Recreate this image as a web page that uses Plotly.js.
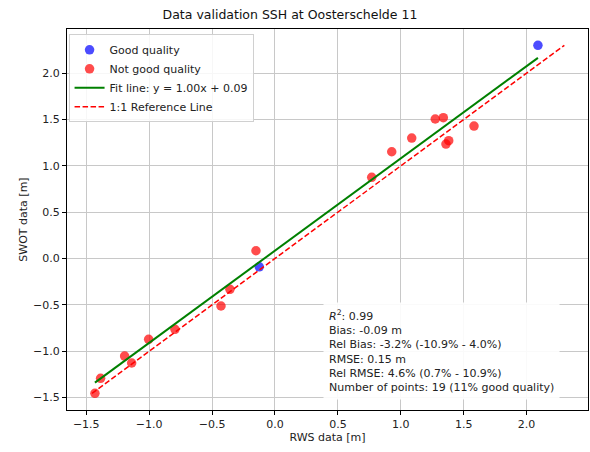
<!DOCTYPE html>
<html>
<head>
<meta charset="utf-8">
<script src="https://cdn.plot.ly/plotly-3.0.1.min.js"></script>
<style>html,body{margin:0;padding:0;background:#fff;}#chart{width:590px;height:452px;}</style>
</head>
<body>
<div id="chart"></div>
<script>
// Good quality points
const goodX = [2.09, -0.125];
const goodY = [2.30, -0.09];
// Not good quality points
const badX = [-1.386, -1.431, -1.195, -1.139, -1.004, -0.795, -0.151, -0.358, -0.429, 0.769, 0.928, 1.087, 1.274, 1.338, 1.381, 1.359, 1.582];
const badY = [-1.292, -1.454, -1.052, -1.127, -0.872, -0.764, 0.084, -0.332, -0.512, 0.876, 1.152, 1.300, 1.505, 1.519, 1.271, 1.235, 1.429];
// Fit line parameters
const fitSlope = 0.995;
const fitIntercept = 0.085;
const fitLabel = "Fit line: y = 1.00x + 0.09";
// Stats text
const statsLines = [
  "<i>R</i><sup>2</sup>: 0.99",
  "Bias: -0.09 m",
  "Rel Bias: -3.2% (-10.9% - 4.0%)",
  "RMSE: 0.15 m",
  "Rel RMSE: 4.6% (0.7% - 10.9%)",
  "Number of points: 19 (11% good quality)"
];
const xTicks = [-1.5, -1.0, -0.5, 0.0, 0.5, 1.0, 1.5, 2.0];
const yTicks = [-1.5, -1.0, -0.5, 0.0, 0.5, 1.0, 1.5, 2.0];

const allX = goodX.concat(badX);
const allY = goodY.concat(badY);
const xMin = Math.min(...allX), xMax = Math.max(...allX);
const lo = Math.min(...allX, ...allY), hi = Math.max(...allX, ...allY);

const font = "DejaVu Sans, sans-serif";
const traces = [
  {x: goodX, y: goodY, mode: 'markers', type: 'scatter', name: 'Good quality',
   marker: {color: 'rgba(0,0,255,0.7)', size: 9.5}},
  {x: badX, y: badY, mode: 'markers', type: 'scatter', name: 'Not good quality',
   marker: {color: 'rgba(255,0,0,0.7)', size: 9.5}},
  {x: [xMin, xMax], y: [fitSlope * xMin + fitIntercept, fitSlope * xMax + fitIntercept],
   mode: 'lines', type: 'scatter', name: fitLabel, line: {color: 'green', width: 2}},
  {x: [lo, hi], y: [lo, hi], mode: 'lines', type: 'scatter', name: '1:1 Reference Line',
   line: {color: 'red', width: 1.5, dash: '5.5px,2.5px'}}
];

const axisCommon = {
  showline: true, linecolor: '#000', linewidth: 1, mirror: true,
  ticks: 'outside', ticklen: 4, tickwidth: 1, tickcolor: '#000',
  showgrid: true, gridcolor: '#c8c8c8', gridwidth: 1, zeroline: false,
  tickfont: {family: font, size: 11, color: '#222'}, tickformat: '.1f'
};

const layout = {
  width: 590, height: 452,
  margin: {l: 67, r: 2, t: 29, b: 42},
  paper_bgcolor: '#fff', plot_bgcolor: '#fff',
  title: {text: 'Data validation SSH at Oosterschelde 11', x: 0.4915, xref: 'container', xanchor: 'center',
          y: 0.967, yref: 'container', yanchor: 'middle', font: {family: font, size: 12.5, color: '#111'}},
  xaxis: Object.assign({}, axisCommon, {range: [-1.653, 2.488], tickvals: xTicks,
          title: {text: 'RWS data [m]', font: {family: font, size: 11, color: '#222'}, standoff: 0}}),
  yaxis: Object.assign({}, axisCommon, {range: [-1.634, 2.476], tickvals: yTicks,
          title: {text: 'SWOT data [m]', font: {family: font, size: 11, color: '#222'}, standoff: 3}}),
  legend: {x: 0.003, y: 0.986, xanchor: 'left', yanchor: 'top', bgcolor: 'rgba(255,255,255,0.85)',
           bordercolor: '#d0d0d0', borderwidth: 1, font: {family: font, size: 11, color: '#222'},
           tracegroupgap: 0},
  showlegend: true,
  annotations: [{
    text: statsLines.join('<br>'), xref: 'paper', yref: 'paper', x: 0.491, y: 0.026,
    xanchor: 'left', yanchor: 'bottom', align: 'left', showarrow: false,
    bgcolor: 'rgba(255,255,255,0.9)', borderpad: 5,
    font: {family: font, size: 11, color: '#222'}
  }]
};

Plotly.newPlot('chart', traces, layout, {displayModeBar: false, staticPlot: true});
</script>
</body>
</html>
